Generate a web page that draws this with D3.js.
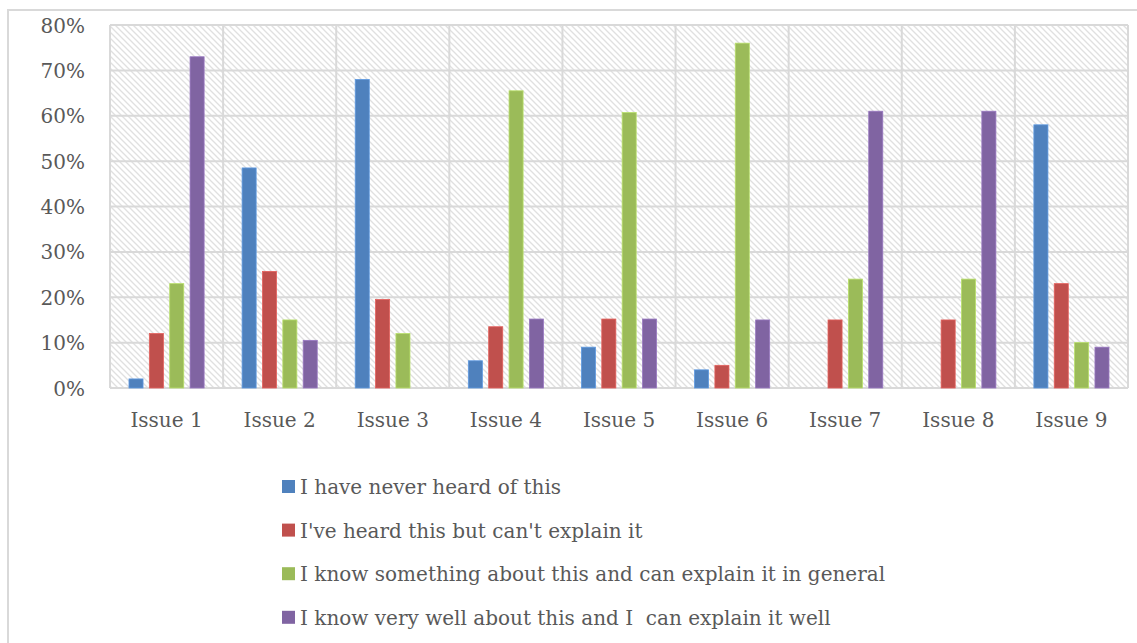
<!DOCTYPE html>
<html>
<head>
<meta charset="utf-8">
<script src="https://cdn.jsdelivr.net/npm/d3@7"></script>
<style>
  body { margin: 0; background: #fff; }
  svg { display: block; }
  .tick text { font-family: "DejaVu Serif", serif; fill: #595959; }
  .legend text { white-space: pre; }
</style>
</head>
<body>
<script>
const width = 1137; const height = 643;

// data
const issues = ["Issue 1","Issue 2","Issue 3","Issue 4","Issue 5","Issue 6","Issue 7","Issue 8","Issue 9"];
const seriesNames = [
    "I have never heard of this",
    "I've heard this but can't explain it",
    "I know something about this and can explain it in general",
    "I know very well about this and I  can explain it well"
];
const neverHeard   = [2, 48.5, 68, 6, 9, 4, 0, 0, 58];
const heardNoExpl  = [12, 25.7, 19.5, 13.5, 15.2, 5, 15, 15, 23];
const knowGeneral  = [23, 15, 12, 65.5, 60.7, 76, 24, 24, 10];
const knowWell     = [73, 10.5, 0, 15.2, 15.2, 15, 61, 61, 9];
const yTicks = [0, 10, 20, 30, 40, 50, 60, 70, 80];
const colors = ["#4F81BD", "#C0504D", "#9BBB59", "#8064A2"];

const allSeries = [neverHeard, heardNoExpl, knowGeneral, knowWell];

const plot = {left: 110, right: 1128, top: 25, bottom: 388};

const svg = d3.select("body").append("svg")
    .attr("width", width)
    .attr("height", height);

// hatch pattern for plot background
const defs = svg.append("defs");
const pat = defs.append("pattern")
    .attr("id", "hatch")
    .attr("patternUnits", "userSpaceOnUse")
    .attr("width", 6)
    .attr("height", 6);
pat.append("rect").attr("width", 6).attr("height", 6).attr("fill", "#fff");
pat.append("path")
    .attr("d", "M-1,-1 L7,7 M-1,5 L1,7 M5,-1 L7,1")
    .attr("stroke", "#e0e0e0")
    .attr("stroke-width", 1.3);

// outer chart border (runs off the page right and bottom)
svg.append("rect")
    .attr("x", 8).attr("y", 10)
    .attr("width", 1200).attr("height", 700)
    .attr("fill", "none")
    .attr("stroke", "#d9d9d9")
    .attr("stroke-width", 2);

let x0 = d3.scaleBand()
    .domain(issues)
    .range([plot.left, plot.right]);

let x1 = d3.scaleBand()
    .domain(d3.range(4))
    .range([x0.bandwidth()*0.14, x0.bandwidth()*0.86])
    .paddingInner(0.31)
    .paddingOuter(0.155);

let y = d3.scaleLinear()
    .domain([0, 80])
    .range([plot.bottom, plot.top]);

// background
svg.append("rect")
    .attr("x", plot.left).attr("y", plot.top)
    .attr("width", plot.right - plot.left)
    .attr("height", plot.bottom - plot.top)
    .attr("fill", "url(#hatch)");

// horizontal grid
svg.append("g")
    .selectAll("line")
    .data(yTicks)
    .enter()
    .append("line")
    .attr("x1", plot.left).attr("x2", plot.right)
    .attr("y1", d => y(d)).attr("y2", d => y(d))
    .attr("stroke", "#d9d9d9")
    .attr("stroke-width", 2);

// vertical grid at category boundaries
const bounds = issues.map(d => x0(d)).concat([plot.right]);
svg.append("g")
    .selectAll("line")
    .data(bounds)
    .enter()
    .append("line")
    .attr("x1", d => d).attr("x2", d => d)
    .attr("y1", plot.top).attr("y2", plot.bottom)
    .attr("stroke", "#d9d9d9")
    .attr("stroke-width", 2);

// bars
const groups = svg.append("g")
    .selectAll("g")
    .data(issues)
    .enter()
    .append("g")
    .attr("transform", d => "translate(" + x0(d) + ",0)");

groups.selectAll("rect")
    .data((d, i) => allSeries.map((s, k) => ({k: k, v: s[i]})))
    .enter()
    .filter(d => d.v > 0)
    .append("rect")
    .attr("x", d => x1(d.k))
    .attr("width", x1.bandwidth())
    .attr("y", d => y(d.v))
    .attr("height", d => y(0) - y(d.v))
    .attr("fill", d => colors[d.k])
    .attr("stroke", d => d3.color(colors[d.k]).brighter(0.5))
    .attr("stroke-width", 0.8);

// y axis
svg.append("g")
    .attr("transform", "translate(" + (plot.left - 22) + ",0)")
    .call(d3.axisLeft(y).tickValues(yTicks).tickFormat(d => d + "%").tickSize(0))
    .call(g => g.select(".domain").remove())
    .call(g => g.selectAll("text").attr("font-size", 20).attr("dy", "0.35em"));

// x axis
svg.append("g")
    .attr("transform", "translate(0," + plot.bottom + ")")
    .call(d3.axisBottom(x0).tickSize(0))
    .call(g => g.select(".domain").remove())
    .call(g => g.selectAll("text").attr("font-size", 20).attr("dy", "0").attr("y", 39));

// legend
const legend = svg.append("g")
    .attr("class", "legend")
    .selectAll("g")
    .data(seriesNames)
    .enter()
    .append("g")
    .attr("transform", (d, i) => "translate(282," + (487 + i*43.6) + ")");

legend.append("rect")
    .attr("x", 0).attr("y", -7)
    .attr("width", 13).attr("height", 13)
    .attr("fill", (d, i) => colors[i]);

legend.append("text")
    .attr("x", 18)
    .attr("dy", "0.35em")
    .attr("font-family", "DejaVu Serif, serif")
    .attr("font-size", 20)
    .attr("fill", "#595959")
    .text(d => d);
</script>
</body>
</html>
